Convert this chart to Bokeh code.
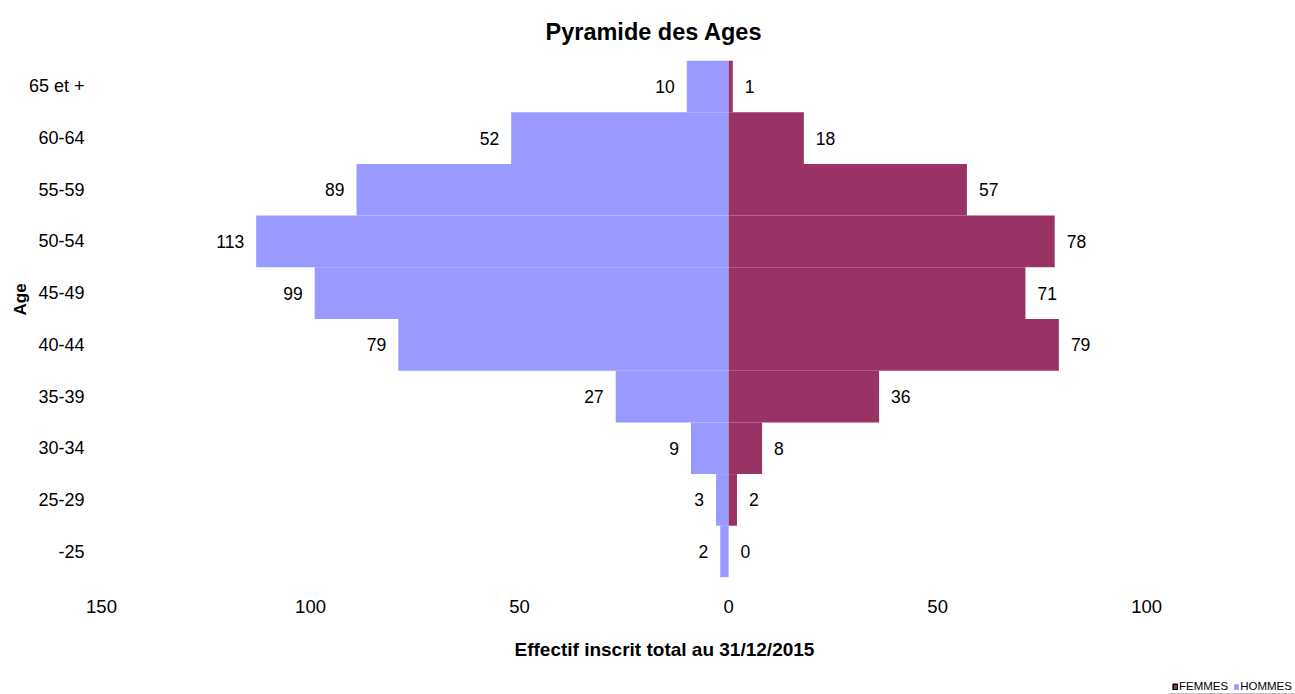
from bokeh.plotting import figure
from bokeh.layouts import column, row
from bokeh.models import (ColumnDataSource, FactorRange, Range1d, FixedTicker,
                          CustomJSTickFormatter, Title, Legend, LegendItem, Spacer)
from bokeh.core.properties import value
from bokeh.embed import file_html
from bokeh.resources import INLINE

ages = ["-25", "25-29", "30-34", "35-39", "40-44", "45-49", "50-54", "55-59", "60-64", "65 et +"]
hommes = [2, 3, 9, 27, 79, 99, 113, 89, 52, 10]
femmes = [0, 2, 8, 36, 79, 71, 78, 57, 18, 1]
x_ticks = [-150, -100, -50, 0, 50, 100]
series_names = ["FEMMES", "HOMMES"]

FONT = "Liberation Sans"
C_H = "#9999FF"
C_F = "#993366"

src = ColumnDataSource(dict(
    age=ages,
    h_left=[-v for v in hommes],
    h_right=[0] * len(hommes),
    f_left=[0] * len(femmes),
    f_right=femmes,
    h_txt=[str(v) for v in hommes],
    f_txt=[str(v) for v in femmes],
    h_x=[-v for v in hommes],
    f_x=femmes,
))

p = figure(width=1295, height=680, output_backend="svg", toolbar_location=None,
           y_range=FactorRange(factors=ages, range_padding=0),
           x_range=Range1d(-150, 134.4),
           min_border_left=101, min_border_right=5, min_border_top=60, min_border_bottom=103)
p.outline_line_color = None
p.xgrid.visible = False
p.ygrid.visible = False
p.background_fill_color = "white"
p.border_fill_color = "white"

p.title.text = "Pyramide des Ages"
p.title.align = "left"
p.title.offset = 444
p.title.text_font = FONT
p.title.text_font_size = "23.5px"
p.title.text_font_style = "bold"
p.title.text_color = "black"
p.title.standoff = 32

p.hbar(y="age", left="h_left", right="h_right", height=1.0, source=src,
       fill_color=C_H, line_color=None)
p.hbar(y="age", left="f_left", right="f_right", height=1.0, source=src,
       fill_color=C_F, line_color=None)

p.text(x="h_x", y="age", text="h_txt", source=src, x_offset=-12,
       text_align="right", text_baseline="middle", text_font=value(FONT),
       text_font_size="17.5px", text_color="black")
p.text(x="f_x", y="age", text="f_txt", source=src, x_offset=12,
       text_align="left", text_baseline="middle", text_font=value(FONT),
       text_font_size="17.5px", text_color="black")

xa = p.xaxis[0]
xa.ticker = FixedTicker(ticks=x_ticks)
xa.formatter = CustomJSTickFormatter(code="return Math.abs(tick).toString();")
xa.axis_line_color = None
xa.major_tick_line_color = None
xa.minor_tick_line_color = None
xa.major_label_text_font = FONT
xa.major_label_text_font_size = "18.5px"
xa.major_label_text_color = "black"
xa.major_label_standoff = 16

ya = p.yaxis[0]
ya.axis_line_color = None
ya.major_tick_line_color = None
ya.minor_tick_line_color = None
ya.major_label_text_font = FONT
ya.major_label_text_font_size = "18px"
ya.major_label_text_color = "black"
ya.major_label_standoff = 11

p.add_layout(Title(text="Effectif inscrit total au 31/12/2015", align="left", offset=413,
                   text_font=FONT, text_font_size="19px", text_font_style="bold",
                   text_color="black", standoff=42), "below")
p.add_layout(Title(text="Age", align="left", offset=262,
                   text_font=FONT, text_font_size="17px", text_font_style="bold",
                   text_color="black", standoff=-8), "left")

# small legend strip under the chart (bottom right); proxy bars lie outside its view
lg = figure(width=127, height=14, output_backend="svg", toolbar_location=None,
            x_axis_location=None, y_axis_location=None,
            x_range=Range1d(0, 1), y_range=Range1d(0, 1),
            min_border_left=0, min_border_right=0, min_border_top=0, min_border_bottom=0)
lg.outline_line_color = None
lg.xgrid.visible = False
lg.ygrid.visible = False
rf = lg.hbar(y=[-5], left=[0], right=[1], height=1, fill_color=C_F,
             line_color="black", line_width=1.5)
rh = lg.hbar(y=[-5], left=[0], right=[1], height=1, fill_color=C_H, line_color=None)
legend = Legend(items=[LegendItem(label=series_names[0], renderers=[rf]),
                       LegendItem(label=series_names[1], renderers=[rh])],
                location=(4, 2), orientation="horizontal",
                glyph_width=6, glyph_height=7, label_height=11, label_standoff=1,
                spacing=5, padding=0, margin=0, border_line_color=None,
                background_fill_alpha=0, label_text_font=FONT,
                label_text_font_size="11.5px", label_text_color="black")
lg.add_layout(legend, "center")

layout = column(p, row(Spacer(width=1168, height=14), lg, spacing=0), spacing=0)

open("out.html", "w").write(file_html(layout, INLINE))
